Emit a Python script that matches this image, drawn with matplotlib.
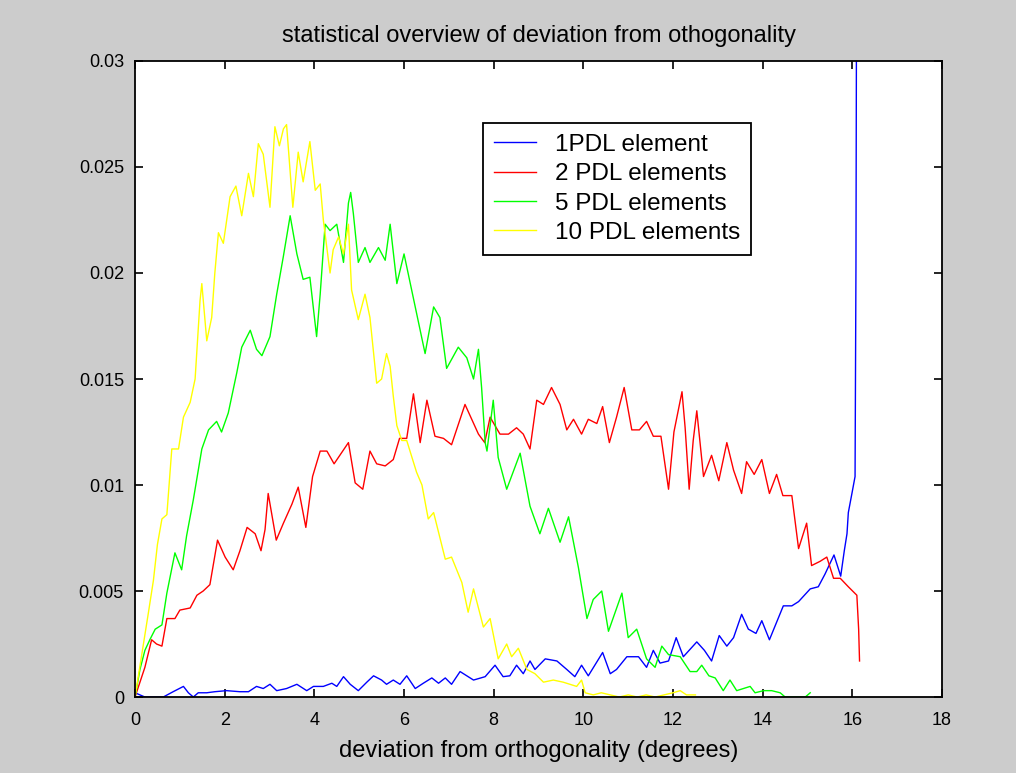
import matplotlib
matplotlib.use("Agg")
import matplotlib.pyplot as plt

plt.rcParams['font.family'] = ['Liberation Sans', 'DejaVu Sans']

# 1 PDL element
x1 = [0, 0.22, 0.63, 0.85, 1.08, 1.19, 1.3, 1.41, 1.6, 1.78, 2.04, 2.34, 2.53, 2.71, 2.86,
      3.01, 3.16, 3.38, 3.61, 3.83, 3.98, 4.2, 4.39, 4.5, 4.65, 4.8, 4.98, 5.17, 5.32, 5.5,
      5.61, 5.76, 5.91, 6.06, 6.25, 6.43, 6.62, 6.77, 6.92, 7.06, 7.25, 7.55, 7.81, 8.03,
      8.21, 8.36, 8.51, 8.66, 8.81, 8.92, 9.15, 9.41, 9.63, 9.81, 9.96, 10.11, 10.43, 10.6,
      10.74, 10.97, 11.23, 11.41, 11.56, 11.71, 11.9, 12.07, 12.23, 12.53, 12.7, 12.86,
      13.03, 13.2, 13.35, 13.53, 13.68, 13.85, 13.98, 14.15, 14.46, 14.65, 14.8, 15.06,
      15.24, 15.39, 15.59, 15.74, 15.82, 15.88, 15.91, 15.99, 16.06, 16.08, 16.12]
y1 = [0.0002, 0.0, 0.0, 0.00025, 0.0005, 0.0002, 0.0, 0.0002, 0.0002, 0.00025, 0.0003,
      0.00025, 0.00025, 0.0005, 0.0004, 0.0006, 0.0003, 0.0004, 0.0006, 0.0003, 0.0005,
      0.0005, 0.00065, 0.0005, 0.00096, 0.0006, 0.0003, 0.0007, 0.0010, 0.0008, 0.0006,
      0.0008, 0.0006, 0.0010, 0.0004, 0.00065, 0.0009, 0.00065, 0.0009, 0.0006, 0.0012,
      0.0008, 0.00096, 0.0015, 0.00096, 0.0010, 0.0015, 0.0011, 0.0017, 0.0013, 0.0018,
      0.0017, 0.0013, 0.00096, 0.0015, 0.0010, 0.0021, 0.0011, 0.0013, 0.0019, 0.0019,
      0.0014, 0.0022, 0.0016, 0.0017, 0.0028, 0.0019, 0.0026, 0.0022, 0.0017, 0.0029,
      0.0024, 0.0028, 0.0039, 0.0032, 0.0030, 0.0036, 0.0027, 0.0043, 0.0043, 0.0045,
      0.0051, 0.0052, 0.0058, 0.0067, 0.0057, 0.0069, 0.0077, 0.0087, 0.0096, 0.0104,
      0.0203, 0.0600]

# 2 PDL elements
x2 = [0, 0.22, 0.37, 0.48, 0.6, 0.71, 0.89, 1.0, 1.23, 1.38, 1.52, 1.67, 1.84, 2.01, 2.19,
      2.34, 2.5, 2.68, 2.81, 2.9, 2.97, 3.15, 3.31, 3.5, 3.64, 3.81, 3.96, 4.13, 4.28, 4.44,
      4.76, 4.91, 5.08, 5.24, 5.39, 5.58, 5.76, 5.9, 6.06, 6.21, 6.36, 6.51, 6.69, 6.88,
      7.06, 7.36, 7.66, 7.8, 7.92, 8.14, 8.33, 8.51, 8.66, 8.81, 8.96, 9.11, 9.29, 9.48,
      9.63, 9.78, 9.96, 10.11, 10.3, 10.43, 10.58, 10.74, 10.91, 11.08, 11.25, 11.41,
      11.56, 11.73, 11.9, 12.02, 12.2, 12.27, 12.36, 12.45, 12.53, 12.68, 12.86, 13.02,
      13.2, 13.35, 13.53, 13.64, 13.81, 13.98, 14.15, 14.31, 14.45, 14.65, 14.8, 14.98,
      15.09, 15.28, 15.43, 15.58, 15.73, 15.91, 16.1, 16.14, 16.16]
y2 = [0.0, 0.0014, 0.0027, 0.0025, 0.0024, 0.0037, 0.0037, 0.0041, 0.0042, 0.0048, 0.0050,
      0.0053, 0.0074, 0.0066, 0.0060, 0.0069, 0.0080, 0.0077, 0.0069, 0.0079, 0.0096,
      0.0074, 0.0082, 0.0091, 0.0099, 0.0080, 0.0104, 0.0116, 0.0116, 0.0110, 0.0120,
      0.0101, 0.0098, 0.0116, 0.0110, 0.0109, 0.0112, 0.0122, 0.0122, 0.0143, 0.0120,
      0.0140, 0.0123, 0.0122, 0.0119, 0.0138, 0.0124, 0.0120, 0.0132, 0.0124, 0.0124,
      0.0127, 0.0124, 0.0117, 0.0140, 0.0138, 0.0146, 0.0138, 0.0126, 0.0131, 0.0124,
      0.0131, 0.0129, 0.0137, 0.0120, 0.0132, 0.0146, 0.0126, 0.0126, 0.0130, 0.0123,
      0.0123, 0.0098, 0.0125, 0.0144, 0.0127, 0.0098, 0.0121, 0.0135, 0.0104, 0.0114,
      0.0102, 0.0120, 0.0107, 0.0096, 0.0111, 0.0105, 0.0112, 0.0096, 0.0105, 0.0095,
      0.0095, 0.0070, 0.0082, 0.0062, 0.0064, 0.0066, 0.0056, 0.0056, 0.0052, 0.0048,
      0.0032, 0.0017]

# 5 PDL elements
x5 = [0, 0.11, 0.22, 0.33, 0.45, 0.6, 0.71, 0.89, 1.04, 1.15, 1.3, 1.49, 1.64, 1.82, 1.93,
      2.08, 2.19, 2.27, 2.38, 2.57, 2.71, 2.83, 3.01, 3.16, 3.31, 3.46, 3.61, 3.75, 3.9,
      4.05, 4.13, 4.24, 4.35, 4.5, 4.65, 4.76, 4.81, 4.87, 4.98, 5.13, 5.24, 5.43, 5.58,
      5.69, 5.84, 6.0, 6.28, 6.47, 6.66, 6.8, 6.95, 7.21, 7.4, 7.55, 7.66, 7.73, 7.81, 7.85,
      7.99, 8.1, 8.29, 8.59, 8.81, 9.03, 9.22, 9.48, 9.67, 9.89, 10.08, 10.22, 10.41, 10.56,
      10.86, 11.0, 11.19, 11.41, 11.6, 11.75, 11.9, 12.16, 12.38, 12.53, 12.64, 12.8, 12.94,
      13.12, 13.27, 13.42, 13.72, 13.83, 14.02, 14.2, 14.39, 14.5, 14.95, 15.06]
y5 = [0.0, 0.0013, 0.0022, 0.0027, 0.0032, 0.0034, 0.0049, 0.0068, 0.0060, 0.0076, 0.0093,
      0.0117, 0.0126, 0.0130, 0.0125, 0.0134, 0.0145, 0.0153, 0.0165, 0.0173, 0.0164,
      0.0161, 0.0170, 0.0190, 0.0208, 0.0227, 0.0209, 0.0197, 0.0198, 0.0170, 0.0190,
      0.0223, 0.0220, 0.0223, 0.0205, 0.0233, 0.0238, 0.0228, 0.0205, 0.0212, 0.0205,
      0.0212, 0.0206, 0.0223, 0.0195, 0.0209, 0.0181, 0.0162, 0.0184, 0.0179, 0.0155,
      0.0165, 0.0160, 0.0150, 0.0164, 0.0146, 0.0120, 0.0116, 0.0140, 0.0113, 0.0098,
      0.0115, 0.0090, 0.0077, 0.0089, 0.0073, 0.0085, 0.0061, 0.0037, 0.0046, 0.0050,
      0.0031, 0.0049, 0.0028, 0.0032, 0.0018, 0.0014, 0.0024, 0.0020, 0.0019, 0.0012,
      0.0012, 0.0015, 0.0010, 0.0009, 0.0003, 0.0008, 0.0003, 0.0005, 0.0002, 0.0003,
      0.0003, 0.0002, 0.0, 0.0, 0.0002]

# 10 PDL elements
x10 = [0, 0.15, 0.3, 0.41, 0.5, 0.6, 0.71, 0.82, 0.97, 1.08, 1.23, 1.34, 1.45, 1.49, 1.6,
       1.71, 1.78, 1.86, 1.97, 2.12, 2.25, 2.38, 2.53, 2.64, 2.75, 2.86, 3.01, 3.12, 3.22,
       3.31, 3.38, 3.52, 3.64, 3.75, 3.9, 4.02, 4.13, 4.2, 4.35, 4.42, 4.54, 4.65, 4.76,
       4.83, 4.98, 5.13, 5.24, 5.39, 5.5, 5.61, 5.69, 5.76, 5.84, 5.95, 6.06, 6.28, 6.4,
       6.54, 6.66, 6.92, 7.06, 7.29, 7.43, 7.55, 7.77, 7.92, 8.1, 8.29, 8.4, 8.55, 8.74,
       8.92, 9.11, 9.33, 9.55, 9.85, 9.96, 10.04, 10.22, 10.4, 10.6, 10.8, 11.0, 11.2, 11.4,
       11.6, 11.8, 12.0, 12.16, 12.3, 12.5]
y10 = [0.0, 0.0020, 0.0040, 0.0055, 0.0072, 0.0084, 0.0086, 0.0117, 0.0117, 0.0132, 0.0139,
       0.0150, 0.0187, 0.0195, 0.0168, 0.0179, 0.0200, 0.0219, 0.0214, 0.0236, 0.0241,
       0.0227, 0.0247, 0.0236, 0.0261, 0.0256, 0.0231, 0.0269, 0.0260, 0.0268, 0.0270,
       0.0231, 0.0257, 0.0243, 0.0262, 0.0239, 0.0242, 0.0225, 0.0200, 0.0211, 0.0217,
       0.0209, 0.0223, 0.0192, 0.0178, 0.0190, 0.0179, 0.0148, 0.0150, 0.0162, 0.0156,
       0.0142, 0.0128, 0.0121, 0.0121, 0.0106, 0.0100, 0.0084, 0.0087, 0.0065, 0.0066,
       0.0054, 0.0040, 0.0051, 0.0033, 0.0037, 0.0018, 0.0025, 0.0019, 0.0023, 0.0013,
       0.0011, 0.0007, 0.0008, 0.0007, 0.0005, 0.0008, 0.0002, 0.0001, 0.0002, 0.0001,
       0.0, 0.0001, 0.0, 0.0001, 0.0, 0.0001, 0.0002, 0.0003, 0.0001, 0.0001]

labels = ['1PDL element', '2 PDL elements', '5 PDL elements', '10 PDL elements']

fig = plt.figure(figsize=(10.16, 7.73), dpi=100, facecolor='#cccccc')
ax = fig.add_axes([0.1329, 0.0983, 0.7943, 0.8228])

ax.plot(x1, y1, color='#0000ff', lw=1.0, label=labels[0])
ax.plot(x2, y2, color='#ff0000', lw=1.0, label=labels[1])
ax.plot(x5, y5, color='#00ff00', lw=1.0, label=labels[2])
ax.plot(x10, y10, color='#ffff00', lw=1.0, label=labels[3])

ax.set_xlim(0, 18)
ax.set_ylim(0, 0.03)
ax.set_xticks(range(0, 19, 2))
ax.set_yticks([0, 0.005, 0.01, 0.015, 0.02, 0.025, 0.03])
ax.set_yticklabels(['0', '0.005', '0.01', '0.015', '0.02', '0.025', '0.03'])
ax.tick_params(direction='in', top=True, right=True, length=6, width=1.2, labelsize=13)
ax.tick_params(axis='x', pad=11)
ax.tick_params(axis='y', pad=8)
for s in ax.spines.values():
    s.set_linewidth(1.3)

ax.set_title('statistical overview of deviation from othogonality', fontsize=17, pad=14)
ax.set_xlabel('deviation from orthogonality (degrees)', fontsize=17, labelpad=8)

leg = ax.legend(loc='upper left', bbox_to_anchor=(0.431, 0.9025), borderaxespad=0,
                fancybox=False, edgecolor='black', framealpha=1, fontsize=17.5,
                handlelength=1.75, handletextpad=0.75, labelspacing=0.3, borderpad=0.45)
leg.get_frame().set_linewidth(1.3)

fig.savefig('out.png', dpi=100, facecolor=fig.get_facecolor())
